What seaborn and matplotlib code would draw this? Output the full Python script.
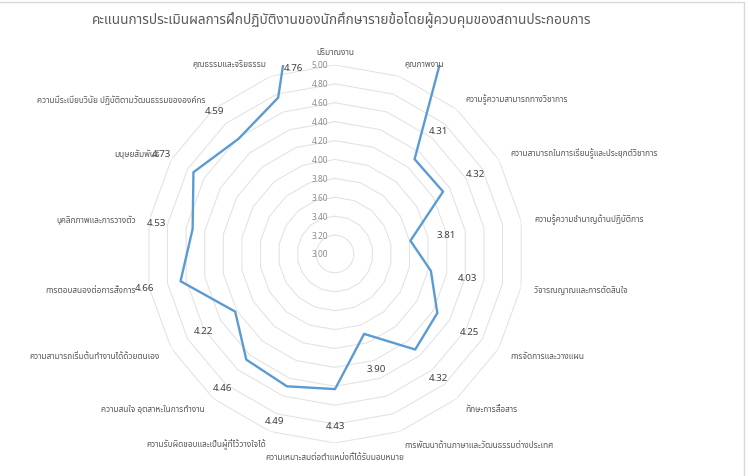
import numpy as np
import pandas as pd
import seaborn as sns
import matplotlib
matplotlib.use("Agg")
import matplotlib.pyplot as plt
from matplotlib import font_manager
from matplotlib.ft2font import FT2Font
from matplotlib.patches import Rectangle
from matplotlib.lines import Line2D

title = "คะแนนการประเมินผลการฝึกปฏิบัติงานของนักศึกษารายข้อโดยผู้ควบคุมของสถานประกอบการ"

categories = [
    "ปริมาณงาน",
    "คุณภาพงาน",
    "ความรู้ความสามารถทางวิชาการ",
    "ความสามารถในการเรียนรู้และประยุกต์วิชาการ",
    "ความรู้ความชำนาญด้านปฏิบัติการ",
    "วิจารณญาณและการตัดสินใจ",
    "การจัดการและวางแผน",
    "ทักษะการสื่อสาร",
    "การพัฒนาด้านภาษาและวัฒนธรรมต่างประเทศ",
    "ความเหมาะสมต่อตำแหน่งที่ได้รับมอบหมาย",
    "ความรับผิดชอบและเป็นผู้ที่ไว้วางใจได้",
    "ความสนใจ อุตสาหะในการทำงาน",
    "ความสามารถเริ่มต้นทำงานได้ด้วยตนเอง",
    "การตอบสนองต่อการสั่งการ",
    "บุคลิกภาพและการวางตัว",
    "มนุษยสัมพันธ์",
    "ความมีระเบียบวินัย ปฏิบัติตามวัฒนธรรมขององค์กร",
    "คุณธรรมและจริยธรรม",
]
# first two points run off the top of the plot area in the original
scores = [8.62, 9.19, 4.31, 4.32, 3.81, 4.03, 4.25, 4.32, 3.90, 4.43,
          4.49, 4.46, 4.22, 4.66, 4.53, 4.73, 4.59, 4.76]
r_ticks = [3.00, 3.20, 3.40, 3.60, 3.80, 4.00, 4.20, 4.40, 4.60, 4.80, 5.00]


def find_thai_font():
    # pick an installed family that actually has Thai glyphs
    preferred = ["Noto Sans Thai", "Noto Sans Thai UI", "Tahoma", "Leelawadee UI",
                 "Loma", "Garuda", "Sarabun", "Waree", "Umpush", "Norasi", "Kinnari"]
    found = []
    for f in font_manager.fontManager.ttflist:
        try:
            if FT2Font(f.fname).get_char_index(ord("ก")):
                found.append(f.name)
        except Exception:
            pass
    for name in preferred:
        if name in found:
            return name
    return found[0] if found else "DejaVu Sans"


sns.set_theme(style="white")
thai = find_thai_font()
plt.rcParams["font.family"] = [thai, "DejaVu Sans"]

n = len(categories)
theta = np.linspace(0, 2 * np.pi, n, endpoint=False)
# close the loop at 2*pi so the last segment goes the short way
df = pd.DataFrame({"theta": np.append(theta, 2 * np.pi),
                   "score": scores + scores[:1]})

fig = plt.figure(figsize=(7.5, 4.77), dpi=100)
ax = fig.add_axes([0.1947, 0.0692, 0.504, 0.7925], projection="polar")
ax.set_theta_zero_location("N")
ax.set_theta_direction(-1)
r0, r1 = r_ticks[0], r_ticks[-1]
ax.set_ylim(r0, r1)
ax.grid(False)
ax.spines["polar"].set_visible(False)
ax.set_xticks([])
ax.set_yticks([])
ax.patch.set_alpha(0)

# polygon gridlines like excel
ring = np.append(theta, 2 * np.pi)
for lv in r_ticks[1:]:
    ax.plot(ring, [lv] * len(ring), color="#e2e2e2", lw=0.75, zorder=1)
for lv in r_ticks:
    ax.annotate(f"{lv:.2f}", xy=(0, lv), xytext=(-5, 0), textcoords="offset points",
                ha="right", va="center", fontsize=6, color="#8c8c8c")

sns.lineplot(data=df, x="theta", y="score", sort=False, ax=ax,
             color="#5b9bd5", lw=1.7, zorder=3)
# clip to the square plot area, not the circle
clip = Rectangle((0, 0), 1, 1, transform=ax.transAxes, facecolor="none")
ax.lines[-1].set_clip_path(clip)
ax.set_xlabel("")
ax.set_ylabel("")

for t, v in zip(theta, scores):
    if v > r1:
        continue
    rl = v + 0.39
    if (rl - r0) * np.cos(t) > (r1 - r0) * 0.97:
        # label would leave the plot area: keep it inside, up-right of the point
        ax.annotate(f"{v:.2f}", xy=(t, v), xytext=(11, 22), textcoords="offset points",
                    ha="center", va="center", fontsize=7, color="#404040")
    else:
        ax.text(t, rl, f"{v:.2f}", ha="center", va="center",
                fontsize=7, color="#404040")

for t, name in zip(theta, categories):
    deg = np.degrees(t)
    if np.isclose(deg, 0) or np.isclose(deg, 180):
        ha = "center"
    elif deg < 180:
        ha = "left"
    else:
        ha = "right"
    ax.text(t, 5.14, name, ha=ha, va="center", fontsize=6.0, color="#595959")

fig.text(0.456, 0.958, title, ha="center", va="center", fontsize=9.8, color="#595959")

fig.add_artist(Line2D([0, 0.992], [0.993, 0.993], transform=fig.transFigure,
                      color="#d9d9d9", lw=1))
fig.add_artist(Line2D([0.992, 0.992], [0, 0.993], transform=fig.transFigure,
                      color="#d9d9d9", lw=1))

fig.savefig("out.png", dpi=100)
